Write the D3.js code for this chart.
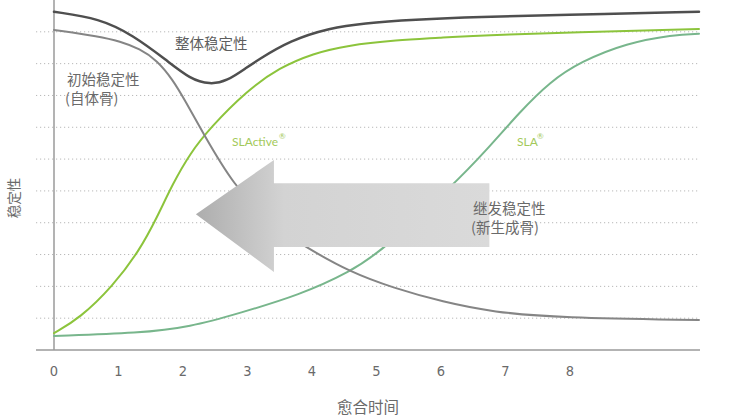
<!DOCTYPE html>
<html>
<head>
<meta charset="utf-8">
<script src="https://cdn.jsdelivr.net/npm/d3@7"></script>
<style>
  html, body { margin: 0; padding: 0; background: #fff; }
  svg { display: block; }
</style>
</head>
<body>
<svg id="chart" width="751" height="420"></svg>
<script>
// ---- data ----
const xTicks = [0, 1, 2, 3, 4, 5, 6, 7, 8];
const gridValues = [1, 2, 3, 4, 5, 6, 7, 8, 9, 10];

const overallT = [0, 0.71, 1.22, 1.75, 2.11, 2.42, 2.68, 2.99, 3.15, 3.66, 4.28, 4.79, 5.57, 6.6, 7.84, 10];
const overallV = [10.63, 10.42, 9.9, 9.1, 8.52, 8.34, 8.45, 8.88, 9.1, 9.73, 10.12, 10.27, 10.38, 10.47, 10.53, 10.63];

const primaryT = [0, 0.71, 1.02, 1.33, 1.6, 1.84, 2.03, 2.31, 2.78, 3.35, 3.92, 4.59, 5.26, 6.03, 6.81, 7.84, 10];
const primaryV = [10.06, 9.85, 9.7, 9.47, 9.1, 8.5, 7.85, 6.82, 5.19, 3.96, 3.21, 2.45, 1.95, 1.51, 1.19, 1.01, 0.94];

const slactiveT = [0, 0.4, 0.91, 1.33, 1.6, 1.84, 2.11, 2.42, 2.99, 3.5, 4.02, 4.53, 5.32, 5.98, 6.6, 10];
const slactiveV = [0.53, 1.0, 2.0, 3.14, 4.18, 5.22, 6.18, 6.98, 8.15, 8.88, 9.32, 9.57, 9.74, 9.81, 9.9, 10.09];

const slaT = [0, 1.33, 2.11, 2.88, 3.81, 4.59, 5.1, 6.19, 6.71, 7.22, 7.69, 8.16, 8.88, 9.6, 10];
const slaV = [0.44, 0.53, 0.72, 1.16, 1.73, 2.45, 3.14, 5.19, 6.29, 7.48, 8.43, 9.06, 9.65, 9.91, 9.94];

// arrow (in data units): tip, head, shaft
const arrowT = { tip: 2.2, head: 3.41, tail: 6.75 };
const arrowV = { tip: 4.27, headTop: 5.97, headBottom: 2.45, shaftTop: 5.24, shaftBottom: 3.24 };

// ---- scales ----
const svg = d3.select("#chart");
const x = d3.scaleLinear().domain([0, 10]).range([54, 699]);
const y = d3.scaleLinear().domain([0, 11]).range([350, 0]);

const cjk = "'Noto Sans CJK SC', 'Noto Sans', sans-serif";

// grid lines
svg.append("g").selectAll("line").data(gridValues).join("line")
  .attr("x1", 36).attr("x2", 700)
  .attr("y1", d => y(d)).attr("y2", d => y(d))
  .attr("stroke", "#b8b8b8").attr("stroke-width", 1)
  .attr("stroke-dasharray", "1.2,2.8");

// axes
svg.append("line").attr("x1", x(0)).attr("x2", x(0)).attr("y1", 0).attr("y2", y(0))
  .attr("stroke", "#9a9a9a").attr("stroke-width", 1.5);
svg.append("line").attr("x1", 36).attr("x2", 700).attr("y1", y(0)).attr("y2", y(0))
  .attr("stroke", "#9a9a9a").attr("stroke-width", 1.5);

// x tick labels
svg.append("g").selectAll("text").data(xTicks).join("text")
  .attr("x", d => x(d)).attr("y", 371).attr("dy", "0.35em")
  .attr("text-anchor", "middle")
  .attr("font-family", "'Liberation Sans Narrow', 'DejaVu Sans Condensed', sans-serif")
  .attr("font-size", 14.5).attr("fill", "#6a6a6a")
  .text(d => d);

// axis titles
svg.append("text").attr("x", 368).attr("y", 408).attr("dy", "0.35em")
  .attr("text-anchor", "middle").attr("font-family", cjk).attr("font-size", 15.5)
  .attr("fill", "#6a6a6a").text("愈合时间");
svg.append("text").attr("transform", "translate(14,198) rotate(-90)").attr("dy", "0.35em")
  .attr("text-anchor", "middle").attr("font-family", cjk).attr("font-size", 13.5)
  .attr("fill", "#6a6a6a").text("稳定性");

// lines
const line = d3.line().x(d => x(d[0])).y(d => y(d[1])).curve(d3.curveBasis);
const zip = (t, v) => t.map((d, i) => [d, v[i]]);

const series = [
  { t: slaT, v: slaV, color: "#78b68c", w: 2 },
  { t: slactiveT, v: slactiveV, color: "#8cc43c", w: 2 },
  { t: primaryT, v: primaryV, color: "#858585", w: 2 },
  { t: overallT, v: overallV, color: "#4f4f4f", w: 2.5 }
];
svg.append("g").selectAll("path").data(series).join("path")
  .attr("d", d => line(zip(d.t, d.v)))
  .attr("fill", "none").attr("stroke", d => d.color).attr("stroke-width", d => d.w)
  .attr("stroke-linecap", "round");

// arrow
const defs = svg.append("defs");
const grad = defs.append("linearGradient").attr("id", "arrowGrad")
  .attr("gradientUnits", "userSpaceOnUse")
  .attr("x1", x(arrowT.tip)).attr("x2", x(arrowT.tail)).attr("y1", 0).attr("y2", 0);
grad.append("stop").attr("offset", "0%").attr("stop-color", "#adadad");
grad.append("stop").attr("offset", "30%").attr("stop-color", "#d3d3d3");
grad.append("stop").attr("offset", "100%").attr("stop-color", "#dadada");

const arrowPts = [
  [arrowT.tip, arrowV.tip],
  [arrowT.head, arrowV.headTop],
  [arrowT.head, arrowV.shaftTop],
  [arrowT.tail, arrowV.shaftTop],
  [arrowT.tail, arrowV.shaftBottom],
  [arrowT.head, arrowV.shaftBottom],
  [arrowT.head, arrowV.headBottom]
];
svg.append("path")
  .attr("d", "M" + arrowPts.map(p => x(p[0]) + "," + y(p[1])).join("L") + "Z")
  .attr("fill", "url(#arrowGrad)");

// labels
function label(tx, ty, txt, size, color, family) {
  return svg.append("text").attr("x", tx).attr("y", ty).attr("dy", "0.35em")
    .attr("font-family", family || cjk).attr("font-size", size).attr("fill", color).text(txt);
}
label(175, 44, "整体稳定性", 14.5, "#5e5e5e");
label(67, 80, "初始稳定性", 14.5, "#6a6a6a");
label(65, 99, "(自体骨)", 14.5, "#6a6a6a");
label(473, 209, "继发稳定性", 14.5, "#6a6a6a");
label(471, 228, "(新生成骨)", 14.5, "#6a6a6a");

const latin = "Lato, 'Open Sans', sans-serif";
label(232, 142, "SLActive", 12, "#a3c95a", latin);
label(279, 136, "®", 8, "#a3c95a", latin);
label(517, 142, "SLA", 12, "#a3c95a", latin);
label(537, 136, "®", 8, "#a3c95a", latin);
</script>
</body>
</html>
